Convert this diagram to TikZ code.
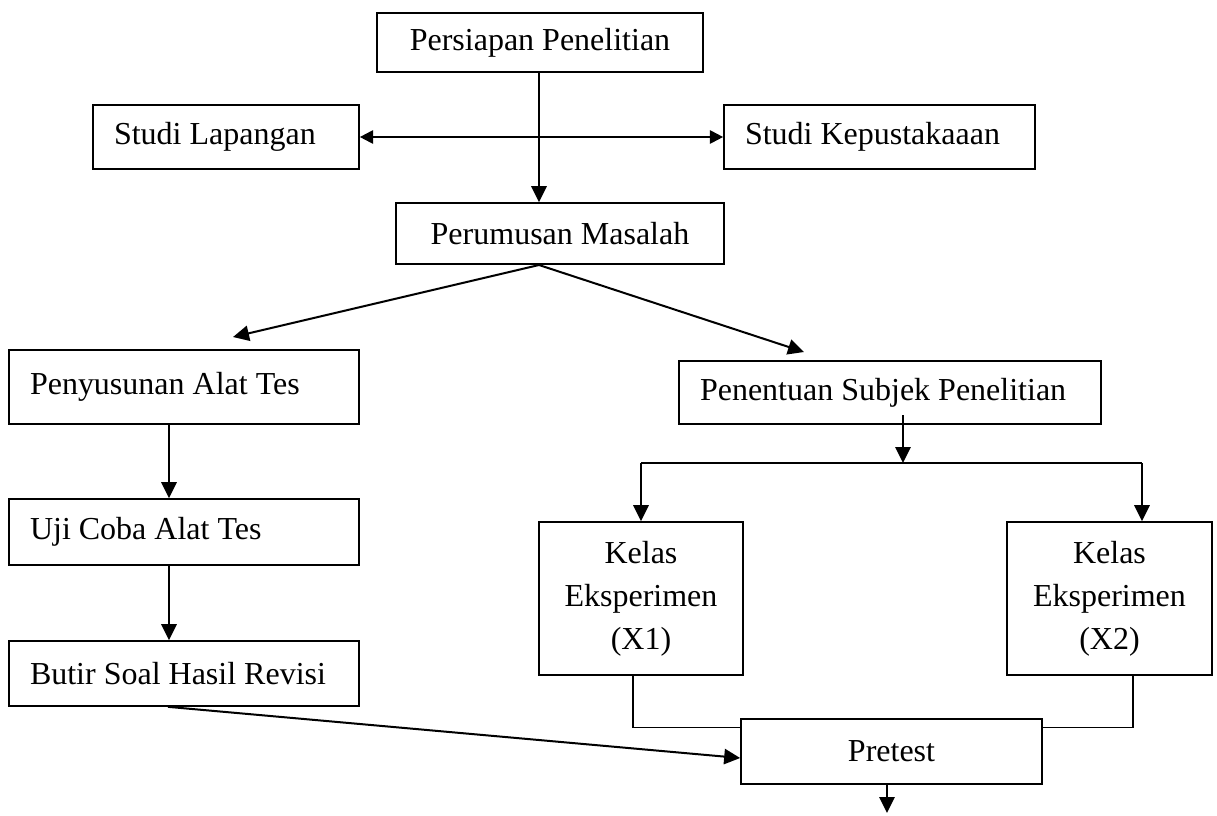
\documentclass[tikz,border=0pt]{standalone}
\usepackage{fontspec}
\setmainfont{Liberation Serif}
\usetikzlibrary{arrows.meta,calc}
\newcommand{\natsp}{\spaceskip=0pt\xspaceskip=0pt\relax}
\begin{document}
\begin{tikzpicture}[x=0.75pt,y=-0.75pt,
  box/.style={draw, line width=1.25pt, inner sep=0pt, font=\fontsize{24}{32.25}\selectfont},
  cbox/.style={box, align=center},
  lbox/.style={box, inner xsep=15.75pt, text width=#1, align=left},
  arr/.style={line width=1.5pt, -{Triangle[length=12pt,width=11.5pt]}},
  darr/.style={line width=1.5pt, {Triangle[length=10pt,width=10pt]}-{Triangle[length=10pt,width=10pt]}},
  link/.style={line width=1pt},
  ]
\useasboundingbox (0,0) rectangle (1217,815);

\node[cbox, minimum width=244.5pt, minimum height=44.25pt] (pers) at (540,42.5) {Persiapan Penelitian};
\node[lbox=168pt, minimum height=48pt] (lap) at (226,137) {\natsp Studi Lapangan};
\node[lbox=201.75pt, minimum height=48pt] (kep) at (879.5,137) {\natsp Studi Kepustakaaan};
\node[cbox, minimum width=246pt, minimum height=45.75pt] (rum) at (560,233.5) {Perumusan Masalah};
\node[lbox=231pt, minimum height=55.5pt] (sus) at (184,387) {\natsp Penyusunan Alat Tes};
\node[lbox=231pt, minimum height=49.5pt] (uji) at (184,532) {\natsp Uji Coba Alat Tes};
\node[lbox=231pt, minimum height=48.75pt] (but) at (184,673.5) {\natsp Butir Soal Hasil Revisi};
\node[lbox=285pt, minimum height=47.25pt] (pen) at (890,392.5) {\natsp Penentuan Subjek Penelitian};
\node[cbox, minimum width=153pt, minimum height=114.75pt] (xa) at (641,598.5) {Kelas\\Eksperimen\\(X1)};
\node[cbox, minimum width=153.75pt, minimum height=114.75pt] (xb) at (1109.5,598.5) {Kelas\\Eksperimen\\(X2)};
\node[cbox, minimum width=225.75pt, minimum height=48.75pt] (pre) at (891.5,751.5) {Pretest};

\coordinate (r0) at (539,265);
\coordinate (t1) at (233,337);
\coordinate (t2) at (804,352);
\coordinate (p0) at (903,415);
\coordinate (br) at (903,463);
\coordinate (bl) at (641,463);
\coordinate (brr) at (1142,463);
\coordinate (end) at (887,813);

\draw[arr] (pers.south -| r0) -- (rum.north -| r0);
\draw[darr] (lap.east) -- (kep.west);
\draw[arr] (r0) -- (t1);
\draw[arr] (r0) -- (t2);
\draw[arr] (p0) -- (br);
\draw[line width=1.5pt] (bl) -- (brr);
\draw[arr] (bl) -- (xa.north);
\draw[arr] (brr) -- (xb.north -| brr);
\draw[arr] ([xshift=-11.25pt]sus.south) -- ([xshift=-11.25pt]uji.north);
\draw[arr] ([xshift=-11.25pt]uji.south) -- ([xshift=-11.25pt]but.north);
\draw[arr] ([xshift=-12pt]but.south) -- ([yshift=-4.875pt]pre.west);
\draw[link] ([xshift=-6pt]xa.south) |- ([yshift=-6.75pt]pre.north west);
\draw[link] ([xshift=17.6pt]xb.south) |- ([yshift=-6.75pt]pre.north east);
\draw[arr] (pre.south -| end) -- (end);
\end{tikzpicture}
\end{document}
